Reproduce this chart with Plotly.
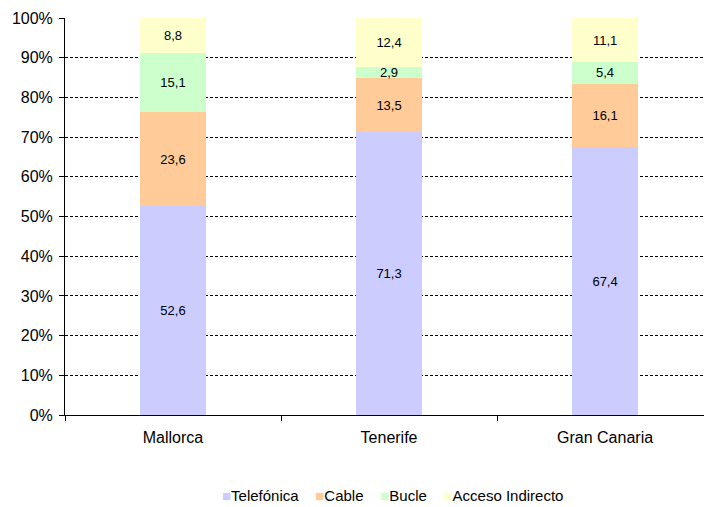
import plotly.graph_objects as go

categories = ["Mallorca", "Tenerife", "Gran Canaria"]
telefonica = [52.6, 71.3, 67.4]
cable = [23.6, 13.5, 16.1]
bucle = [15.1, 2.9, 5.4]
acceso = [8.8, 12.4, 11.1]
series_names = ["Telefónica", "Cable", "Bucle", "Acceso Indirecto"]
colors = ["#CCCCFF", "#FFCC99", "#CCFFCC", "#FFFFCC"]
tick_vals = [0, 10, 20, 30, 40, 50, 60, 70, 80, 90, 100]

fig = go.Figure()
for name, vals, col in zip(series_names, [telefonica, cable, bucle, acceso], colors):
    fig.add_trace(go.Bar(
        x=categories, y=vals, name=name,
        marker=dict(color=col, line=dict(width=0)),
        text=[f"{v:.1f}".replace(".", ",") for v in vals],
        textposition="inside", insidetextanchor="middle", textangle=0,
        constraintext="none",
        textfont=dict(family="Liberation Sans, Arial", size=13, color="black"),
        hoverinfo="skip",
    ))

legend_text = "&nbsp;&nbsp;&nbsp;&nbsp;".join(
    f'<span style="color:{c}">■</span>{n}' for n, c in zip(series_names, colors)
)
fig.add_annotation(
    text=legend_text, xref="paper", yref="paper", x=0.513, y=-0.204,
    xanchor="center", yanchor="middle", showarrow=False,
    font=dict(family="Liberation Sans, Arial", size=15, color="black"),
)

fig.update_layout(
    barmode="stack",
    bargap=0.695,
    width=704, height=507,
    margin=dict(l=65, r=0, t=18, b=92, autoexpand=False),
    paper_bgcolor="white", plot_bgcolor="white",
    font=dict(family="Liberation Sans, Arial", color="black"),
    showlegend=False,
    xaxis=dict(
        type="category", range=[-0.5, 2.458],
        showline=True, linecolor="black", linewidth=1,
        ticks="outside", ticklen=5, tickcolor="black", tickson="boundaries",
        tickfont=dict(size=16), ticklabelstandoff=8,
        showgrid=False, zeroline=False,
    ),
    yaxis=dict(
        range=[0, 100], tickvals=tick_vals, ticktext=[f"{v}%" for v in tick_vals],
        showline=True, linecolor="black", linewidth=1,
        ticks="outside", ticklen=5, tickcolor="black",
        tickfont=dict(size=16), ticklabelstandoff=3,
        showgrid=True, gridcolor="black", gridwidth=1, griddash="3px,2px",
        zeroline=False,
    ),
)

fig.write_html("out.html")
